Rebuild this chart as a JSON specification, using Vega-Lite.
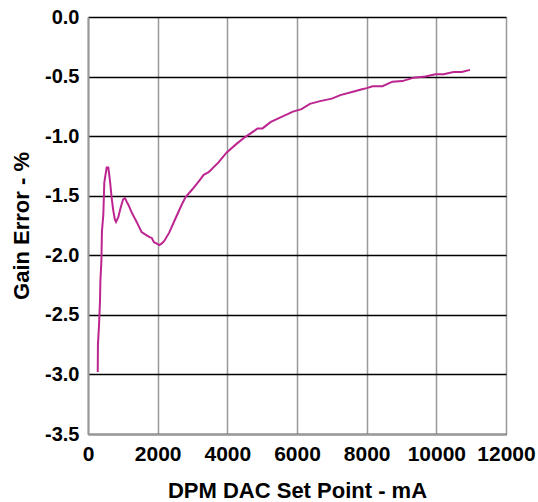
{
  "$schema": "https://vega.github.io/schema/vega-lite/v6.json",
  "width": 418,
  "height": 417,
  "autosize": "none",
  "padding": {"left": 88, "top": 17, "right": 32, "bottom": 68},
  "background": "white",
  "config": {
    "view": {"stroke": null},
    "font": "Liberation Sans",
    "axis": {
      "labelFont": "Liberation Sans",
      "titleFont": "Liberation Sans",
      "labelFontWeight": "bold",
      "titleFontWeight": "bold",
      "labelColor": "black",
      "titleColor": "black",
      "ticks": false
    }
  },
  "data": {
    "values": [
      {"x": 280, "y": -2.98},
      {"x": 285, "y": -2.75},
      {"x": 316, "y": -2.59},
      {"x": 345, "y": -2.38},
      {"x": 355, "y": -2.22},
      {"x": 385, "y": -2.04},
      {"x": 400, "y": -1.80},
      {"x": 440, "y": -1.66},
      {"x": 468, "y": -1.39},
      {"x": 500, "y": -1.33},
      {"x": 536, "y": -1.264},
      {"x": 583, "y": -1.264},
      {"x": 631, "y": -1.375},
      {"x": 680, "y": -1.52},
      {"x": 726, "y": -1.625},
      {"x": 770, "y": -1.70},
      {"x": 804, "y": -1.72},
      {"x": 870, "y": -1.68},
      {"x": 920, "y": -1.62},
      {"x": 967, "y": -1.57},
      {"x": 1010, "y": -1.53},
      {"x": 1062, "y": -1.52},
      {"x": 1110, "y": -1.55},
      {"x": 1157, "y": -1.575},
      {"x": 1254, "y": -1.64},
      {"x": 1397, "y": -1.72},
      {"x": 1540, "y": -1.806},
      {"x": 1684, "y": -1.833},
      {"x": 1780, "y": -1.85},
      {"x": 1827, "y": -1.853},
      {"x": 1894, "y": -1.89},
      {"x": 1960, "y": -1.90},
      {"x": 2048, "y": -1.915},
      {"x": 2120, "y": -1.90},
      {"x": 2189, "y": -1.88},
      {"x": 2331, "y": -1.81},
      {"x": 2520, "y": -1.685},
      {"x": 2700, "y": -1.57},
      {"x": 2803, "y": -1.512},
      {"x": 2991, "y": -1.448},
      {"x": 3180, "y": -1.38},
      {"x": 3321, "y": -1.325},
      {"x": 3463, "y": -1.303},
      {"x": 3746, "y": -1.22},
      {"x": 3982, "y": -1.137},
      {"x": 4264, "y": -1.065},
      {"x": 4500, "y": -1.01},
      {"x": 4783, "y": -0.954},
      {"x": 4865, "y": -0.935},
      {"x": 5010, "y": -0.935},
      {"x": 5250, "y": -0.88},
      {"x": 5496, "y": -0.847},
      {"x": 5884, "y": -0.794},
      {"x": 6128, "y": -0.773},
      {"x": 6370, "y": -0.729},
      {"x": 6661, "y": -0.706},
      {"x": 7001, "y": -0.685},
      {"x": 7243, "y": -0.656},
      {"x": 7631, "y": -0.626},
      {"x": 7838, "y": -0.609},
      {"x": 8000, "y": -0.597},
      {"x": 8171, "y": -0.581},
      {"x": 8455, "y": -0.581},
      {"x": 8740, "y": -0.543},
      {"x": 9024, "y": -0.538},
      {"x": 9354, "y": -0.509},
      {"x": 9687, "y": -0.50},
      {"x": 9972, "y": -0.48},
      {"x": 10209, "y": -0.48},
      {"x": 10493, "y": -0.461},
      {"x": 10730, "y": -0.461},
      {"x": 10967, "y": -0.444}
    ]
  },
  "mark": {"type": "line", "color": "#BC2590", "strokeWidth": 2},
  "encoding": {
    "x": {
      "field": "x",
      "type": "quantitative",
      "scale": {"domain": [0, 12000], "nice": false, "zero": false},
      "axis": {
        "title": "DPM DAC Set Point - mA",
        "values": [0, 2000, 4000, 6000, 8000, 10000, 12000],
        "format": "d",
        "labelFontSize": 21,
        "titleFontSize": 22,
        "labelPadding": 9,
        "titlePadding": 16,
        "labelFlush": false,
        "labelOverlap": false,
        "grid": true,
        "gridColor": "#999999",
        "gridWidth": 1.5,
        "domainColor": "#999999",
        "domainWidth": 2
      }
    },
    "y": {
      "field": "y",
      "type": "quantitative",
      "scale": {"domain": [-3.5, 0], "nice": false, "zero": false},
      "axis": {
        "title": "Gain Error - %",
        "values": [-3.5, -3, -2.5, -2, -1.5, -1, -0.5, 0],
        "labelExpr": "replace(format(datum.value, '.1f'), '\u2212', '-')",
        "labelFontSize": 20,
        "titleFontSize": 22,
        "labelPadding": 9,
        "titlePadding": 11,
        "labelFlush": false,
        "labelOverlap": false,
        "grid": true,
        "gridColor": "black",
        "gridWidth": 1.5,
        "domainColor": "#999999",
        "domainWidth": 2
      }
    }
  }
}
